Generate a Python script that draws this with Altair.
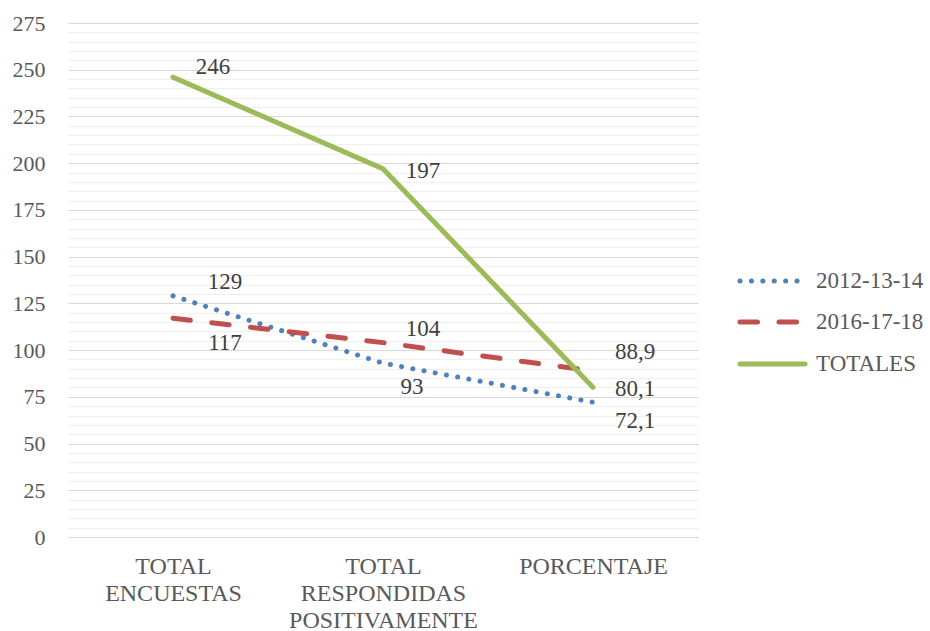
import altair as alt
import pandas as pd

# ---- data ----
categories = ["TOTAL ENCUESTAS", "TOTAL RESPONDIDAS POSITIVAMENTE", "PORCENTAJE"]
series = ["2012-13-14", "2016-17-18", "TOTALES"]
values_2012_13_14 = [129, 93, 72.1]
values_2016_17_18 = [117, 104, 88.9]
values_totales = [246, 197, 80.1]

# ---- styles / layout ----
colors = ["#4F81BD", "#C0504D", "#9BBB59"]
dashes = [[0.1, 11.3], [17.5, 21.5], [1, 0]]
# label offsets (dx, dy) in pixels, per series, per category
label_offsets = {
    "2012-13-14": [(52, -14), (29, 24), (42, 19)],
    "2016-17-18": [(52, 25), (40, -14), (42, -19)],
    "TOTALES": [(40, -10), (40, 2), (42, 2)],
}
legend_rows_y = [258, 299, 341]
FONT = "Liberation Serif"

rows = []
for s, vals in zip(series, [values_2012_13_14, values_2016_17_18, values_totales]):
    for c, v in zip(categories, vals):
        rows.append({"serie": s, "categoria": c, "valor": v})
df = pd.DataFrame(rows)

base = alt.Chart(df)

x_axis = alt.Axis(
    title=None, labelAngle=0, labelExpr="split(datum.label, ' ')",
    labelFontSize=24, labelFont=FONT, labelColor="#595959", labelLineHeight=27,
    ticks=False, domain=True, domainColor="#D9D9D9", domainWidth=1,
    labelPadding=17, grid=False, labelBaseline="top", labelLimit=400,
)
x_scale = alt.Scale(type="point", padding=0.5)
x_enc = alt.X("categoria:N", sort=categories, scale=x_scale, axis=x_axis)

y_scale = alt.Scale(domain=[0, 275], nice=False, zero=True)

minor_vals = [v for v in range(0, 276, 5) if v % 25 != 0]
major_vals = list(range(0, 276, 25))

color_enc = alt.Color("serie:N", sort=series,
                      scale=alt.Scale(domain=series, range=colors), legend=None)
dash_enc = alt.StrokeDash("serie:N", sort=series,
                          scale=alt.Scale(domain=series, range=dashes), legend=None)

lines = base.mark_line(strokeWidth=5, strokeCap="round", strokeJoin="round").encode(
    x=x_enc,
    y=alt.Y("valor:Q", scale=y_scale, axis=alt.Axis(
        orient="right", values=minor_vals, labels=False, ticks=False, domain=False,
        grid=True, gridColor="#EFEFEF", gridWidth=1, title=None)),
    color=color_enc,
    strokeDash=dash_enc,
)

layers = [lines]
first = True
for s in series:
    for i, c in enumerate(categories):
        dx, dy = label_offsets[s][i]
        if first:
            y_axis = alt.Axis(
                orient="left", values=major_vals, title=None, ticks=False, domain=False,
                grid=True, gridColor="#D9D9D9", gridWidth=1,
                labelFontSize=22, labelFont=FONT, labelColor="#595959", labelPadding=23)
            first = False
        else:
            y_axis = None
        t = base.transform_filter(
            (alt.datum.serie == s) & (alt.datum.categoria == c)
        ).transform_calculate(
            label="replace(toString(datum.valor), '.', ',')"
        ).mark_text(
            dx=dx, dy=dy, fontSize=23, font=FONT, color="#404040",
            align="center", baseline="middle",
        ).encode(
            x=x_enc,
            y=alt.Y("valor:Q", scale=y_scale, axis=y_axis),
            text="label:N",
        )
        layers.append(t)

# manual legend (so the dotted symbol gets round caps)
for s, yy in zip(series, legend_rows_y):
    one = base.transform_filter(
        (alt.datum.serie == s) & (alt.datum.categoria == categories[0])
    )
    sym = one.mark_rule(strokeWidth=5, strokeCap="round").encode(
        x=alt.value(672), x2=alt.value(737), y=alt.value(yy),
        color=color_enc, strokeDash=dash_enc,
    )
    lab = one.mark_text(
        align="left", baseline="middle", fontSize=23, font=FONT, color="#595959"
    ).encode(x=alt.value(748), y=alt.value(yy), text="serie:N")
    layers += [sym, lab]

chart = alt.layer(*layers).resolve_axis(y="independent").properties(
    width=630, height=514,
    autosize=alt.AutoSizeParams(type="none"),
    padding={"left": 68, "top": 23, "right": 232, "bottom": 94},
    background="white",
).configure_view(stroke=None)

chart.save("out.html", embed_options={"renderer": "svg", "actions": False})
